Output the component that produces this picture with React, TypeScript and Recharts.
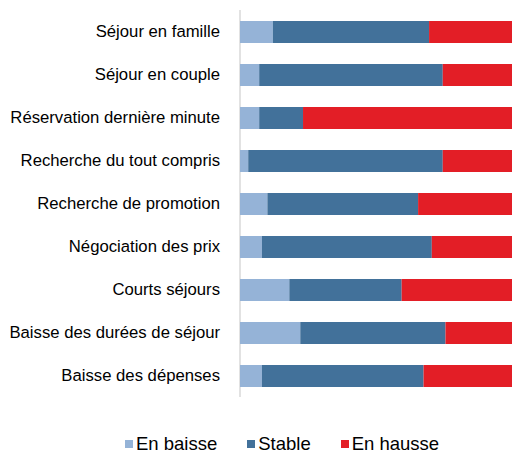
import React from 'react';
import { BarChart, Bar, XAxis, YAxis, CartesianGrid } from 'recharts';

const categories = [
  'Séjour en famille',
  'Séjour en couple',
  'Réservation dernière minute',
  'Recherche du tout compris',
  'Recherche de promotion',
  'Négociation des prix',
  'Courts séjours',
  'Baisse des durées de séjour',
  'Baisse des dépenses',
];
const enBaisse = [12, 7, 7, 3, 10, 8, 18, 22, 8];
const stable = [57, 67, 16, 71, 55, 62, 41, 53, 59];
const enHausse = [31, 26, 77, 26, 35, 30, 41, 25, 33];

const series = [
  { key: 'baisse', name: 'En baisse', color: '#95B3D7' },
  { key: 'stable', name: 'Stable', color: '#42719A' },
  { key: 'hausse', name: 'En hausse', color: '#E31E26' },
];

const data = categories.map((c, i) => ({
  name: c,
  baisse: enBaisse[i],
  stable: stable[i],
  hausse: enHausse[i],
}));

const font = '"Liberation Sans", Arial, sans-serif';

export default function App() {
  return (
    <div
      style={{
        position: 'absolute',
        left: 0,
        top: 0,
        width: 512,
        height: 455,
        overflow: 'hidden',
        background: '#fff',
        fontFamily: font,
      }}
    >
      <BarChart
        width={520}
        height={400}
        data={data}
        layout="vertical"
        margin={{ top: 10, right: 6, bottom: 3, left: 0 }}
      >
        <CartesianGrid horizontal={false} stroke="#d9d9d9" strokeWidth={1.5} />
        <XAxis
          type="number"
          domain={[0, 100]}
          ticks={[0, 50, 100]}
          height={0}
          tick={false}
          axisLine={false}
          tickLine={false}
        />
        <YAxis
          type="category"
          dataKey="name"
          width={240}
          axisLine={false}
          tickLine={false}
          tickSize={0}
          tickMargin={20}
          interval={0}
          tick={{ fontSize: 16.7, fill: '#000', fontFamily: font }}
        />
        {series.map(s => (
          <Bar
            key={s.key}
            dataKey={s.key}
            name={s.name}
            stackId="a"
            fill={s.color}
            barSize={22}
            isAnimationActive={false}
          />
        ))}
      </BarChart>
      <div
        style={{
          position: 'absolute',
          left: 125,
          top: 433,
          display: 'flex',
          fontSize: 18.5,
          color: '#000',
          lineHeight: '22px',
        }}
      >
        {series.map(s => (
          <div
            key={s.key}
            style={{ display: 'flex', alignItems: 'center', marginRight: 30 }}
          >
            <span
              style={{
                width: 8,
                height: 8,
                background: s.color,
                display: 'inline-block',
                marginRight: 3,
              }}
            />
            <span>{s.name}</span>
          </div>
        ))}
      </div>
    </div>
  );
}
